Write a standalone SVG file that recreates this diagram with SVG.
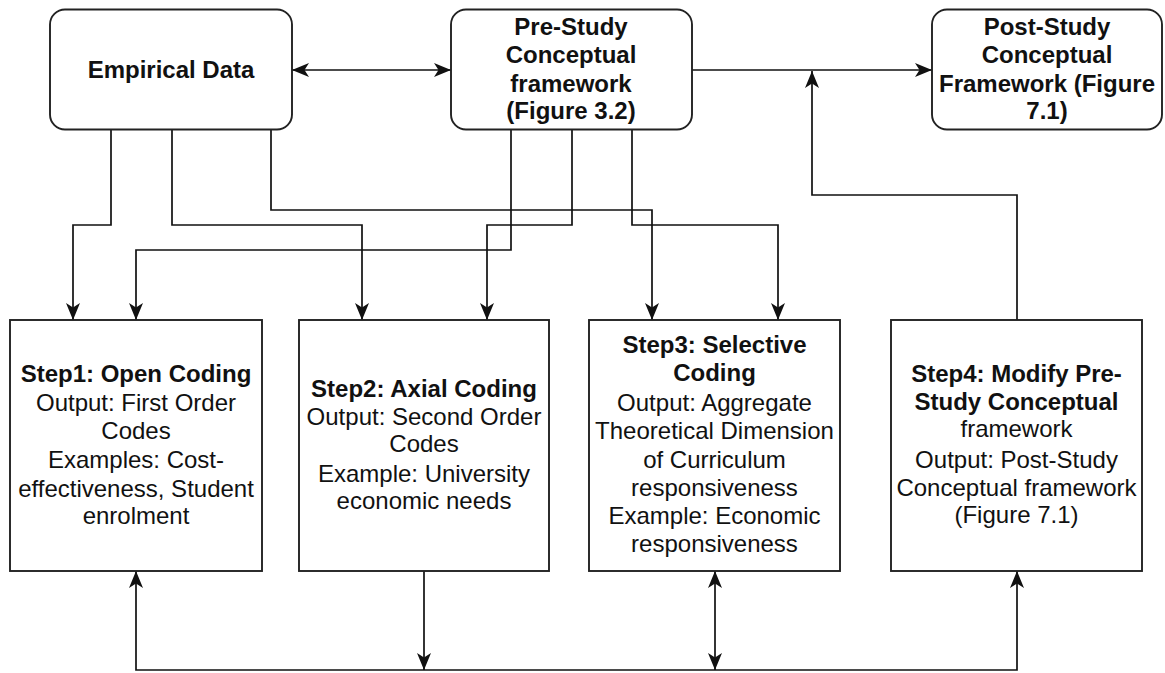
<svg xmlns="http://www.w3.org/2000/svg" width="1165" height="673" viewBox="0 0 1165 673">
  <style>
    .box { fill: #ffffff; stroke: #222222; stroke-width: 1.9; }
    .edge { fill: none; stroke: #111111; stroke-width: 1.7; }
    text { font-family: "Liberation Sans", Arial, sans-serif; font-size: 24px; fill: #111111; text-anchor: middle; }
    .b { font-weight: bold; }
  </style>
  <defs>
    <marker id="arrow" markerUnits="userSpaceOnUse" markerWidth="18" markerHeight="16" refX="17" refY="8" orient="auto-start-reverse" viewBox="0 0 18 16">
      <path d="M0,1 L17,8 L0,15 L4.5,8 Z" fill="#111111"/>
    </marker>
  </defs>

  <rect width="1165" height="673" fill="#ffffff"/>

  <!-- connectors -->
  <g id="connectors">
    <!-- top row -->
    <path class="edge" d="M292,70 H451" marker-start="url(#arrow)" marker-end="url(#arrow)"/>
    <path class="edge" d="M692,70 H932" marker-end="url(#arrow)"/>
    <path class="edge" d="M1017,320 V195 H812 V71" marker-end="url(#arrow)"/>

    <!-- from Empirical Data -->
    <path class="edge" d="M111,130 V225 H73 V320" marker-end="url(#arrow)"/>
    <path class="edge" d="M172,130 V225 H362 V320" marker-end="url(#arrow)"/>
    <path class="edge" d="M271,130 V210 H652 V320" marker-end="url(#arrow)"/>

    <!-- from Pre-Study framework -->
    <path class="edge" d="M511,130 V250 H136 V320" marker-end="url(#arrow)"/>
    <path class="edge" d="M572,130 V225 H487 V320" marker-end="url(#arrow)"/>
    <path class="edge" d="M632,130 V225 H778 V320" marker-end="url(#arrow)"/>

    <!-- feedback bus along the bottom -->
    <path class="edge" d="M136,571 V670 H1017 V571" marker-start="url(#arrow)" marker-end="url(#arrow)"/>
    <path class="edge" d="M424,571 V670" marker-end="url(#arrow)"/>
    <path class="edge" d="M715,571 V670" marker-start="url(#arrow)" marker-end="url(#arrow)"/>
  </g>

  <!-- top nodes -->
  <g id="empirical-data">
    <rect class="box" x="50" y="9.5" width="242" height="120" rx="15"/>
    <text class="b" x="171" y="78">Empirical Data</text>
  </g>

  <g id="pre-study">
    <rect class="box" x="451" y="9.5" width="241" height="120" rx="15"/>
    <text class="b" x="571" y="35">Pre-Study</text>
    <text class="b" x="571" y="63">Conceptual</text>
    <text class="b" x="571" y="92">framework</text>
    <text class="b" x="571" y="119">(Figure 3.2)</text>
  </g>

  <g id="post-study">
    <rect class="box" x="932" y="9.5" width="230" height="120" rx="15"/>
    <text class="b" x="1047" y="35">Post-Study</text>
    <text class="b" x="1047" y="63">Conceptual</text>
    <text class="b" x="1047" y="92">Framework (Figure</text>
    <text class="b" x="1047" y="119">7.1)</text>
  </g>

  <!-- coding steps -->
  <g id="step1">
    <rect class="box" x="10" y="320" width="252" height="251"/>
    <text class="b" x="136" y="382">Step1: Open Coding</text>
    <text x="136" y="411">Output: First Order</text>
    <text x="136" y="439">Codes</text>
    <text x="136" y="468">Examples: Cost-</text>
    <text x="136" y="497">effectiveness, Student</text>
    <text x="136" y="524">enrolment</text>
  </g>

  <g id="step2">
    <rect class="box" x="299" y="320" width="250" height="251"/>
    <text class="b" x="424" y="397">Step2: Axial Coding</text>
    <text x="424" y="425">Output: Second Order</text>
    <text x="424" y="452">Codes</text>
    <text x="424" y="482">Example: University</text>
    <text x="424" y="509">economic needs</text>
  </g>

  <g id="step3">
    <rect class="box" x="589" y="320" width="251" height="251"/>
    <text class="b" x="714.5" y="353">Step3: Selective</text>
    <text class="b" x="714.5" y="381">Coding</text>
    <text x="714.5" y="411">Output: Aggregate</text>
    <text x="714.5" y="439">Theoretical Dimension</text>
    <text x="714.5" y="468">of Curriculum</text>
    <text x="714.5" y="496">responsiveness</text>
    <text x="714.5" y="524">Example: Economic</text>
    <text x="714.5" y="552">responsiveness</text>
  </g>

  <g id="step4">
    <rect class="box" x="891" y="320" width="251" height="251"/>
    <text class="b" x="1016.5" y="382">Step4: Modify Pre-</text>
    <text class="b" x="1016.5" y="410">Study Conceptual</text>
    <text x="1016.5" y="437">framework</text>
    <text x="1016.5" y="468">Output: Post-Study</text>
    <text x="1016.5" y="496">Conceptual framework</text>
    <text x="1016.5" y="523">(Figure 7.1)</text>
  </g>
</svg>
